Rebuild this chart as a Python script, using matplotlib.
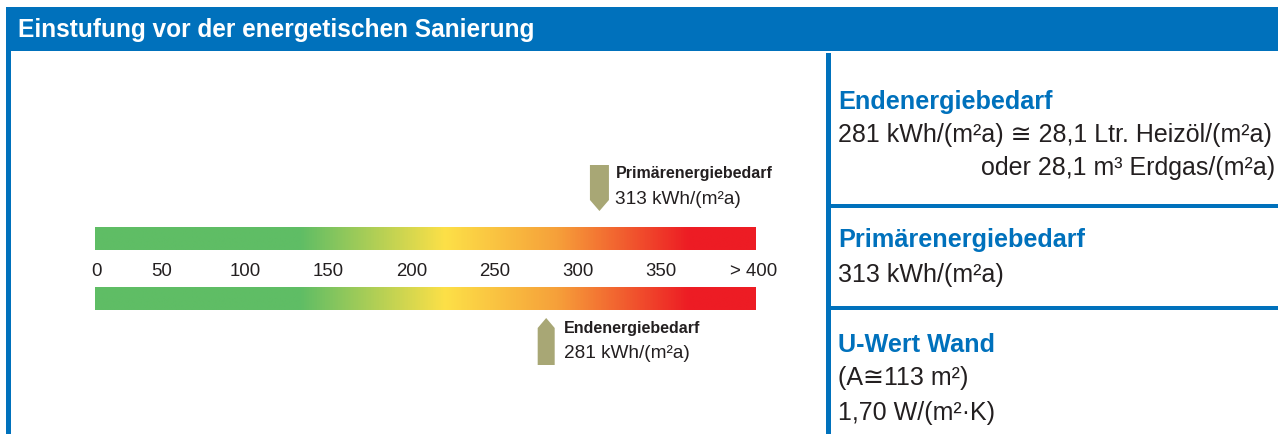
import numpy as np
import matplotlib.pyplot as plt
from matplotlib.colors import LinearSegmentedColormap
from matplotlib.patches import Polygon, Rectangle

# --- Daten ---
tick_values = [0, 50, 100, 150, 200, 250, 300, 350, 400]
tick_labels = ["0", "50", "100", "150", "200", "250", "300", "350", "> 400"]
primaer = 313      # kWh/(m2a)
endenergie = 281   # kWh/(m2a)
title = "Einstufung vor der energetischen Sanierung"

info_heads = ["Endenergiebedarf", "Primärenergiebedarf", "U-Wert Wand"]
info_lines = [
    ["281 kWh/(m²a) ≅ 28,1 Ltr. Heizöl/(m²a)", "oder 28,1 m³ Erdgas/(m²a)"],
    ["313 kWh/(m²a)"],
    ["(A≅113 m²)", "1,70 W/(m²·K)"],
]

BLUE = "#0071bc"
ARROW = "#a8a775"
TXT = "#231f20"
W, H = 1278, 434
BODY = ["Liberation Sans", "DejaVu Sans"]
BOLD = ["Liberation Sans", "DejaVu Sans"]

fig = plt.figure(figsize=(W / 100, H / 100), dpi=100)
renderer = fig.canvas.get_renderer()


def fit_size(text, family, weight, width_px):
    # Schriftgröße so wählen, dass der Text die gemessene Breite hat
    t = fig.text(0, 0, text, fontsize=10, family=family, fontweight=weight)
    w = t.get_window_extent(renderer).width
    t.remove()
    return 10 * width_px / w


fs_title = fit_size(title, BOLD, "bold", 520)
fs_head = fit_size(info_heads[0], BOLD, "bold", 216)
fs_body = fit_size(info_lines[0][0], BODY, "normal", 436)
fs_small_b = fit_size("Primärenergiebedarf", BOLD, "bold", 157)
fs_small = fit_size("313 kWh/(m²a)", BODY, "normal", 126)
fs_tick = fit_size("> 400", BODY, "normal", 47)

# Rahmen / Layout in Pixelkoordinaten
bg = fig.add_axes([0, 0, 1, 1])
bg.set_xlim(0, W)
bg.set_ylim(H, 0)
bg.axis("off")
bg.add_patch(Rectangle((6, 7), W - 6, 44, color=BLUE, lw=0))
bg.add_patch(Rectangle((6, 51), 5, H - 51, color=BLUE, lw=0))
bg.add_patch(Rectangle((826, 53), 5, H - 53, color=BLUE, lw=0))
bg.add_patch(Rectangle((831, 204), W - 831, 4, color=BLUE, lw=0))
bg.add_patch(Rectangle((831, 306), W - 831, 4, color=BLUE, lw=0))
bg.text(18, 37, title, color="white", fontsize=fs_title, fontweight="bold",
        family=BOLD, va="baseline", ha="left")

# rechte Infospalte
head_base = [109, 247, 352]
line_base = [[142, 175], [282], [385, 420]]
for head, lines, yh, yl in zip(info_heads, info_lines, head_base, line_base):
    bg.text(838, yh, head, color=BLUE, fontsize=fs_head, fontweight="bold",
            family=BOLD, va="baseline", ha="left")
    for i, (line, y) in enumerate(zip(lines, yl)):
        right = head == "Endenergiebedarf" and i == 1
        bg.text(1275 if right else 838, y, line, color=TXT, fontsize=fs_body,
                family=BODY, va="baseline", ha="right" if right else "left")

# --- Skala (x in kWh/(m2a), y in Pixeln) ---
px0, s = 78.6, 1.664           # Pixel bei 0 kWh, Pixel pro kWh
ax = fig.add_axes([0, 0, 1, 1])
ax.axis("off")

bar_lo = (95 - px0) / s
bar_hi = (756 - px0) / s
cmap = LinearSegmentedColormap.from_list("energie", [
    (0.0, "#5fbd65"), (0.31, "#5fbd65"), (0.53, "#fde047"),
    (0.70, "#f6a03a"), (0.90, "#ed1c24"), (1.0, "#ed1c24")])
grad = np.linspace(0, 1, 512).reshape(1, -1)
for top, bot in [(227, 250), (287, 310)]:
    ax.imshow(grad, cmap=cmap, aspect="auto", extent=[bar_lo, bar_hi, bot, top],
              interpolation="bilinear")
ax.set_xlim(-px0 / s, (W - px0) / s)
ax.set_ylim(H, 0)

for v, lab in zip(tick_values, tick_labels):
    x = max(v, bar_lo + 1.2)
    if lab.startswith(">"):
        x = v + 5.5
    ax.text(x, 276, lab, fontsize=fs_tick, color=TXT, family=BODY,
            ha="center", va="baseline")

# Primärenergie-Pfeil (nach unten)
hw = 9.5 / s
ax.add_patch(Polygon([(primaer - hw, 165), (primaer + hw, 165), (primaer + hw, 200),
                      (primaer, 211), (primaer - hw, 200)], closed=True, color=ARROW, lw=0))
ax.text(primaer + 16 / s, 178, "Primärenergiebedarf", fontsize=fs_small_b, fontweight="bold",
        family=BOLD, color=TXT, ha="left", va="baseline")
ax.text(primaer + 16 / s, 204, f"{primaer} kWh/(m²a)", fontsize=fs_small, family=BODY,
        color=TXT, ha="left", va="baseline")

# Endenergie-Pfeil (nach oben)
hw = 8.5 / s
ax.add_patch(Polygon([(endenergie - hw, 365), (endenergie + hw, 365), (endenergie + hw, 328),
                      (endenergie, 318), (endenergie - hw, 328)], closed=True, color=ARROW, lw=0))
ax.text(endenergie + 18 / s, 333, "Endenergiebedarf", fontsize=fs_small_b, fontweight="bold",
        family=BOLD, color=TXT, ha="left", va="baseline")
ax.text(endenergie + 18 / s, 358, f"{endenergie} kWh/(m²a)", fontsize=fs_small, family=BODY,
        color=TXT, ha="left", va="baseline")

fig.savefig("out.png", dpi=100)
